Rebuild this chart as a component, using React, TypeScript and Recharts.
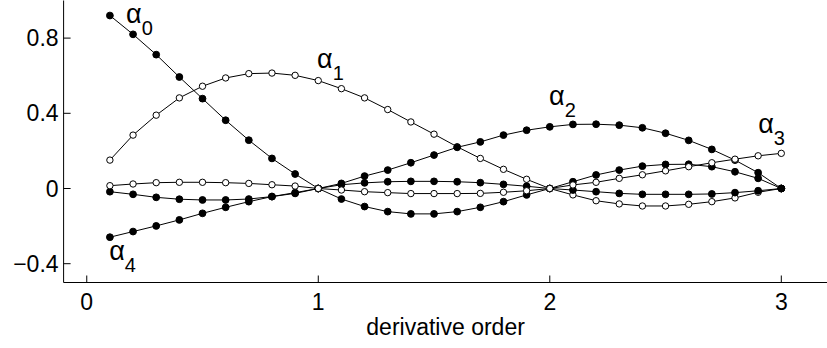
import React from 'react';
import { LineChart, Line, XAxis, YAxis, ReferenceDot, Label } from 'recharts';

const xs = [0.1, 0.2, 0.3, 0.4, 0.5, 0.6, 0.7, 0.8, 0.9, 1.0, 1.1, 1.2, 1.3, 1.4, 1.5, 1.6, 1.7, 1.8, 1.9, 2.0, 2.1, 2.2, 2.3, 2.4, 2.5, 2.6, 2.7, 2.8, 2.9, 3.0];

const alpha0 = [0.920, 0.820, 0.712, 0.593, 0.478, 0.363, 0.257, 0.160, 0.077, 0, -0.056, -0.096, -0.123, -0.135, -0.135, -0.123, -0.100, -0.070, -0.034, 0, 0.036, 0.072, 0.098, 0.119, 0.128, 0.129, 0.116, 0.089, 0.054, 0];
const alpha1 = [0.151, 0.284, 0.390, 0.482, 0.544, 0.588, 0.611, 0.614, 0.602, 0.574, 0.531, 0.482, 0.420, 0.354, 0.289, 0.222, 0.160, 0.102, 0.049, 0, -0.034, -0.065, -0.082, -0.093, -0.093, -0.084, -0.070, -0.050, -0.020, 0];
const alpha2 = [-0.017, -0.031, -0.047, -0.057, -0.061, -0.061, -0.056, -0.043, -0.026, 0, 0.027, 0.066, 0.098, 0.137, 0.178, 0.219, 0.248, 0.284, 0.310, 0.328, 0.341, 0.342, 0.337, 0.323, 0.294, 0.256, 0.208, 0.151, 0.084, 0];
const alpha3 = [0.015, 0.024, 0.031, 0.033, 0.033, 0.031, 0.027, 0.020, 0.013, 0, -0.008, -0.017, -0.022, -0.027, -0.027, -0.027, -0.026, -0.020, -0.012, 0, 0.019, 0.033, 0.054, 0.073, 0.094, 0.116, 0.137, 0.156, 0.174, 0.187];
const alpha4 = [-0.259, -0.229, -0.199, -0.167, -0.132, -0.100, -0.070, -0.043, -0.022, 0, 0.020, 0.030, 0.036, 0.038, 0.038, 0.036, 0.031, 0.022, 0.012, 0, -0.008, -0.017, -0.026, -0.031, -0.031, -0.031, -0.029, -0.022, -0.012, 0];

const xTicks = [0, 1, 2, 3];
const yTicks = [-0.4, 0, 0.4, 0.8];
const xLabel = 'derivative order';

// annotation anchors (data coordinates) for the α_k labels
const labelSubs = ['0', '1', '2', '3', '4'];
const labelX = [0.17, 0.995, 1.997, 2.9, 0.097];
const labelY = [0.88, 0.641, 0.444, 0.295, -0.38];

const data = xs.map((x, i) => ({ x, a0: alpha0[i], a1: alpha1[i], a2: alpha2[i], a3: alpha3[i], a4: alpha4[i] }));

const FONT = '"Liberation Sans", Arial, Helvetica, sans-serif';
const FS = 23;
const TL = 7;

const fmtY = (v: number) => (v === 0 ? '0' : v < 0 ? '\u2212' + String(Math.abs(v)) : String(v));

const BottomTick = (props: any) => {
  const { x, y, payload } = props;
  return (
    <g>
      <line x1={x} x2={x} y1={y} y2={y - TL} stroke="#000" strokeWidth={1} />
      <text x={x} y={y + 27.5} textAnchor="middle" fontSize={FS} fontFamily={FONT} fill="#000">{payload.value}</text>
    </g>
  );
};
const TopTick = (props: any) => {
  const { x, y } = props;
  return <line x1={x} x2={x} y1={y} y2={y + TL} stroke="#000" strokeWidth={1} />;
};
const LeftTick = (props: any) => {
  const { x, y, payload } = props;
  return (
    <g>
      <line x1={x} x2={x + TL} y1={y} y2={y} stroke="#000" strokeWidth={1} />
      <text x={x - 5} y={y + 8} textAnchor="end" fontSize={FS} fontFamily={FONT} fill="#000">{fmtY(payload.value)}</text>
    </g>
  );
};
const RightTick = (props: any) => {
  const { x, y } = props;
  return <line x1={x} x2={x - TL} y1={y} y2={y} stroke="#000" strokeWidth={1} />;
};

const XAxisLabel = (props: any) => {
  const vb = props.viewBox;
  return (
    <text x={vb.x + vb.width / 2} y={vb.y + 52.5} textAnchor="middle" fontSize={FS} fontFamily={FONT} fill="#000">{xLabel}</text>
  );
};

const makeAlpha = (sub: string) => (props: any) => {
  const { cx, cy } = props;
  return (
    <text x={cx} y={cy} fontFamily={FONT} fill="#000" fontSize={27}>
      <tspan>α</tspan>
      <tspan dy={12} fontSize={20}>{sub}</tspan>
    </text>
  );
};

const filledDot = { r: 3.4, fill: '#000', stroke: '#000', strokeWidth: 1 };
const openDot = { r: 3.2, fill: '#fff', stroke: '#000', strokeWidth: 1 };

export default function App() {
  return (
    <div style={{ width: 827, height: 348, overflow: 'hidden', position: 'absolute', left: 0, top: 0, background: '#fff' }}>
      <style>{'body{margin:0;}'}</style>
      <LineChart width={828} height={348} data={data} margin={{ top: 0.5, right: 0.4, bottom: 0, left: 3.6 }}>
        <XAxis dataKey="x" type="number" domain={[-0.1, 3.2]} ticks={xTicks} allowDataOverflow
          height={65.5} tickSize={0} tickMargin={0} tickLine={false} tick={<BottomTick />}
          axisLine={{ stroke: '#000', strokeWidth: 1 }} interval={0}>
          <Label content={<XAxisLabel />} />
        </XAxis>
        <XAxis xAxisId="top" orientation="top" dataKey="x" type="number" domain={[-0.1, 3.2]} ticks={xTicks} allowDataOverflow
          height={0} tickSize={0} tickMargin={0} tickLine={false} tick={<TopTick />}
          axisLine={{ stroke: '#000', strokeWidth: 1 }} interval={0} />
        <YAxis type="number" domain={[-0.5, 1]} ticks={yTicks} allowDataOverflow width={60}
          tickSize={0} tickMargin={0} tickLine={false} tick={<LeftTick />}
          axisLine={{ stroke: '#000', strokeWidth: 1 }} interval={0} />
        <YAxis yAxisId="right" orientation="right" type="number" domain={[-0.5, 1]} ticks={yTicks} allowDataOverflow width={0}
          tickSize={0} tickMargin={0} tickLine={false} tick={<RightTick />}
          axisLine={{ stroke: '#000', strokeWidth: 1 }} interval={0} />
        <Line dataKey="a0" stroke="#000" strokeWidth={1} dot={filledDot} activeDot={false} isAnimationActive={false} type="linear" />
        <Line dataKey="a1" stroke="#000" strokeWidth={1} dot={openDot} activeDot={false} isAnimationActive={false} type="linear" />
        <Line dataKey="a2" stroke="#000" strokeWidth={1} dot={filledDot} activeDot={false} isAnimationActive={false} type="linear" />
        <Line dataKey="a4" stroke="#000" strokeWidth={1} dot={filledDot} activeDot={false} isAnimationActive={false} type="linear" />
        <Line dataKey="a3" stroke="#000" strokeWidth={1} dot={openDot} activeDot={false} isAnimationActive={false} type="linear" />
        {labelSubs.map((s, i) => (
          <ReferenceDot key={s} x={labelX[i]} y={labelY[i]} r={0} shape={makeAlpha(s)} ifOverflow="visible" />
        ))}
      </LineChart>
    </div>
  );
}
